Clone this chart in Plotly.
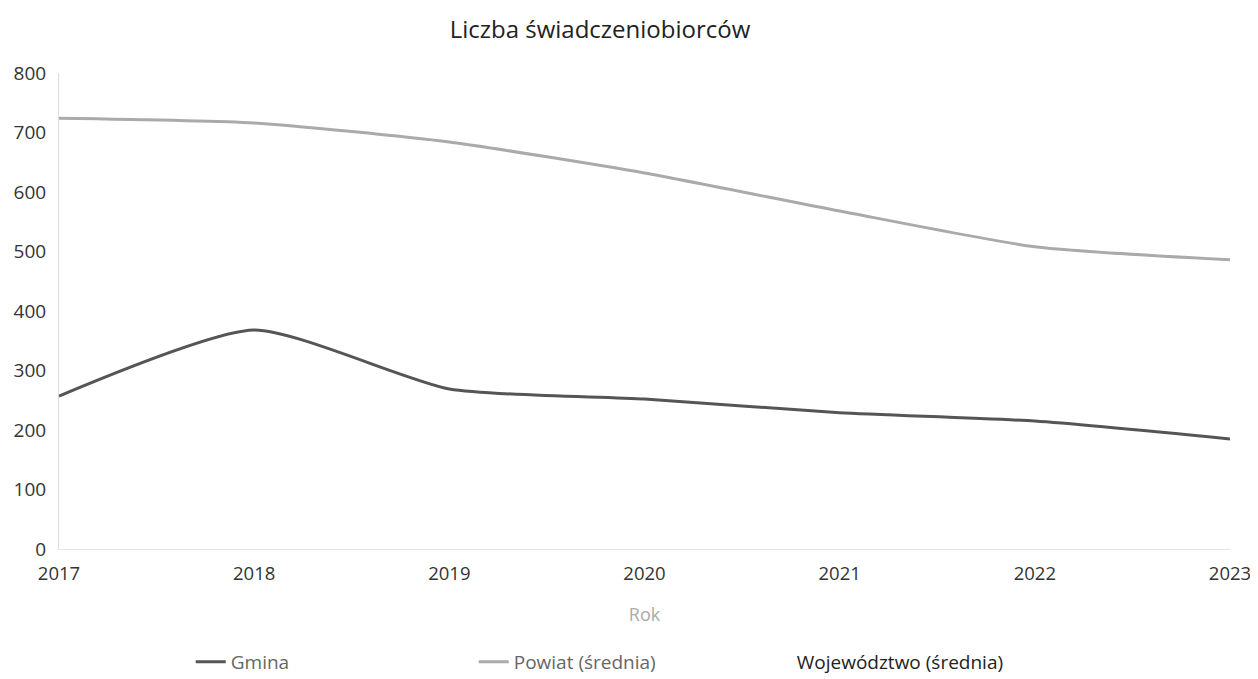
import plotly.graph_objects as go

years = [2017, 2018, 2019, 2020, 2021, 2022, 2023]
gmina = [257, 368, 269, 252, 229, 215, 185]
powiat = [724, 716, 684, 632, 568, 508, 486]
wojewodztwo = [None] * 7
y_ticks = [0, 100, 200, 300, 400, 500, 600, 700, 800]

fig = go.Figure()
fig.add_trace(go.Scatter(x=years, y=gmina, name="Gmina", mode="lines",
                         line=dict(color="#555555", width=3, shape="spline", smoothing=0.6)))
fig.add_trace(go.Scatter(x=years, y=powiat, name="Powiat (średnia)", mode="lines",
                         line=dict(color="#aaaaaa", width=3, shape="spline", smoothing=0.6)))
fig.add_trace(go.Scatter(x=years, y=wojewodztwo,
                         name="<span style='color:#222222'>Województwo (średnia)</span>",
                         mode="lines", line=dict(color="rgba(0,0,0,0)", width=3)))

fig.update_layout(
    width=1250, height=671,
    paper_bgcolor="white", plot_bgcolor="white",
    font=dict(family="Open Sans", color="#333333", size=19),
    title=dict(text="Liczba świadczeniobiorców", x=0.4736, xanchor="center", y=0.968, yanchor="middle",
               font=dict(size=24, color="#222222")),
    margin=dict(l=51, r=28, t=65, b=130, autoexpand=False),
    showlegend=True,
    legend=dict(orientation="h", x=0.1125, xanchor="left", y=-0.237, yanchor="middle",
                entrywidth=238, entrywidthmode="pixels",
                font=dict(size=19, color="#666666")),
    xaxis=dict(range=[2017, 2023], tickvals=years, showgrid=False, zeroline=False,
               showline=True, linecolor="#e6e6e6", linewidth=1, automargin=False,
               ticklabeloverflow="allow",
               ticks="", ticklabelstandoff=8, tickfont=dict(size=18.5, color="#333333"),
               title=dict(text="Rok", font=dict(size=18, color="#aaaaaa"), standoff=24)),
    yaxis=dict(range=[0, 800], tickvals=y_ticks, showgrid=False, zeroline=False,
               showline=True, linecolor="#dddddd", linewidth=1, automargin=False,
               ticks="", ticklabelstandoff=8, tickfont=dict(size=19, color="#333333")),
)
fig.write_html("out.html")
